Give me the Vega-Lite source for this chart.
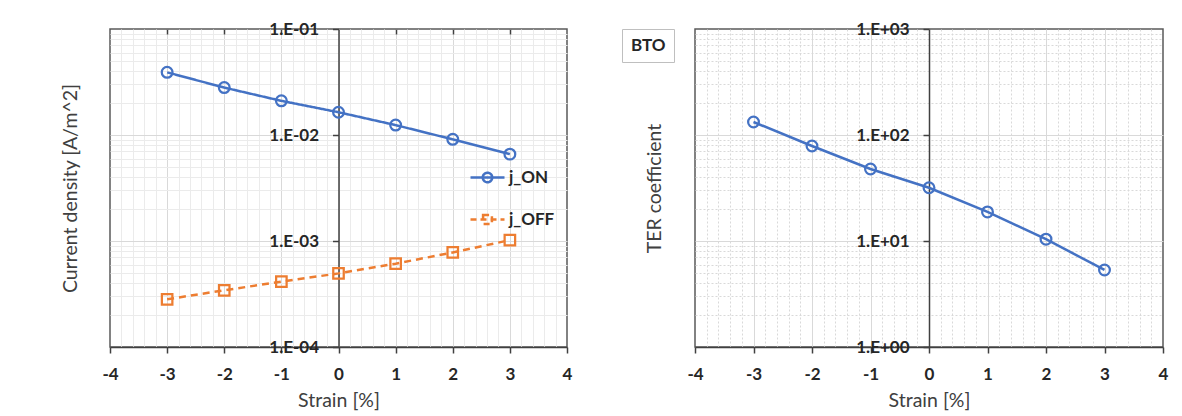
{
  "$schema": "https://vega.github.io/schema/vega-lite/v6.json",
  "background": "white",
  "padding": {"left": 59, "top": 19, "right": 5, "bottom": 5},
  "spacing": 128,
  "bounds": "flush",
  "resolve": {"scale": {"color": "independent"}, "legend": {"color": "independent"}},
  "config": {
    "font": "Lato",
    "view": {"stroke": "#595959", "strokeWidth": 1.5},
    "axis": {
      "labelFont": "Lato",
      "titleFont": "Lato",
      "labelFontSize": 17,
      "labelFontWeight": "bold",
      "labelColor": "#262626",
      "titleFontSize": 19.5,
      "titleFontWeight": "normal",
      "titleColor": "#404040",
      "domainColor": "#404040",
      "tickColor": "#404040",
      "domainWidth": 1.5,
      "tickWidth": 1.5,
      "labelOverlap": false,
      "labelFlush": false
    },
    "legend": {"labelFont": "Lato"}
  },
  "datasets": {
    "current": [
      {"series": "j_ON", "strain": -3, "density": 0.039},
      {"series": "j_ON", "strain": -2, "density": 0.028},
      {"series": "j_ON", "strain": -1, "density": 0.021},
      {"series": "j_ON", "strain": 0, "density": 0.0164},
      {"series": "j_ON", "strain": 1, "density": 0.0124},
      {"series": "j_ON", "strain": 2, "density": 0.0091},
      {"series": "j_ON", "strain": 3, "density": 0.0066},
      {"series": "j_OFF", "strain": -3, "density": 0.000282},
      {"series": "j_OFF", "strain": -2, "density": 0.000343},
      {"series": "j_OFF", "strain": -1, "density": 0.000413},
      {"series": "j_OFF", "strain": 0, "density": 0.000495},
      {"series": "j_OFF", "strain": 1, "density": 0.000611},
      {"series": "j_OFF", "strain": 2, "density": 0.00078},
      {"series": "j_OFF", "strain": 3, "density": 0.00102}
    ],
    "ter": [
      {"material": "BTO", "strain": -3, "ter": 132.7},
      {"material": "BTO", "strain": -2, "ter": 78.7},
      {"material": "BTO", "strain": -1, "ter": 47.8},
      {"material": "BTO", "strain": 0, "ter": 31.8},
      {"material": "BTO", "strain": 1, "ter": 18.8},
      {"material": "BTO", "strain": 2, "ter": 10.4},
      {"material": "BTO", "strain": 3, "ter": 5.33}
    ]
  },
  "hconcat": [
    {
      "width": 457,
      "height": 318,
      "data": {"name": "current"},
      "layer": [
        {
          "mark": {"type": "line", "strokeWidth": 2.5},
          "encoding": {
            "x": {
              "field": "strain", "type": "quantitative",
              "scale": {"domain": [-4, 4], "nice": false, "zero": false},
              "axis": {
                "orient": "bottom",
                "values": [-3.8, -3.6, -3.4, -3.2, -3, -2.8, -2.6, -2.4, -2.2, -2, -1.8, -1.6, -1.4, -1.2, -1, -0.8, -0.6, -0.4, -0.2, 0, 0.2, 0.4, 0.6, 0.8, 1, 1.2, 1.4, 1.6, 1.8, 2, 2.2, 2.4, 2.6, 2.8, 3, 3.2, 3.4, 3.6, 3.8],
                "grid": true,
                "gridColor": {"condition": {"test": "datum.value % 1 === 0", "value": "#d9d9d9"}, "value": "#ebebeb"},
                "gridWidth": 1,
                "labels": false, "ticks": false, "domain": false, "title": null
              }
            },
            "y": {
              "field": "density", "type": "quantitative",
              "scale": {"type": "log", "domain": [0.0001, 0.1], "nice": false},
              "axis": {
                "orient": "left",
                "values": [0.0002, 0.0003, 0.0004, 0.0005, 0.0006, 0.0007, 0.0008, 0.0009, 0.001, 0.002, 0.003, 0.004, 0.005, 0.006, 0.007, 0.008, 0.009, 0.01, 0.02, 0.03, 0.04, 0.05, 0.06, 0.07, 0.08, 0.09],
                "grid": true,
                "gridColor": {"condition": {"test": "abs(log(datum.value)/LN10 - round(log(datum.value)/LN10)) < 1e-6", "value": "#d9d9d9"}, "value": "#ebebeb"},
                "gridWidth": 1,
                "labels": false, "ticks": false, "domain": false,
                "title": "Current density [A/m^2]",
                "titlePadding": 30
              }
            },
            "color": {
              "field": "series", "type": "nominal",
              "scale": {"domain": ["j_ON", "j_OFF"], "range": ["#4472C4", "#ED7D31"]},
              "legend": {
                "orient": "none",
                "legendX": 359,
                "legendY": 130,
                "title": null,
                "padding": 0,
                "symbolType": "circle",
                "symbolSize": 1156,
                "symbolStrokeWidth": 2.5,
                "symbolOpacity": 1,
                "labelFontSize": 17,
                "labelFontWeight": "bold",
                "labelColor": "#262626",
                "labelOffset": 3,
                "rowPadding": 13,
                "encode": {
                  "symbols": {
                    "update": {
                      "shape": {"signal": "datum.value === 'j_ON' ? 'M-1,0H1M-0.28,0A0.28,0.28,0,1,1,0.28,0A0.28,0.28,0,1,1,-0.28,0' : 'M-1,0H1M-0.26,-0.26H0.26V0.26H-0.26Z'"},
                      "strokeDash": {"signal": "datum.value === 'j_OFF' ? [6, 4] : [1, 0]"},
                      "fill": {"value": "transparent"},
                      "opacity": {"value": 1}
                    }
                  }
                }
              }
            },
            "strokeDash": {
              "field": "series", "type": "nominal",
              "scale": {"domain": ["j_ON", "j_OFF"], "range": [[1, 0], [7, 5]]},
              "legend": null
            }
          }
        },
        {
          "transform": [{"filter": "datum.series === 'j_ON'"}],
          "mark": {"type": "point", "shape": "circle", "filled": false, "size": 115, "strokeWidth": 2.25, "opacity": 1},
          "encoding": {
            "x": {
              "field": "strain", "type": "quantitative",
              "axis": {
                "orient": "bottom",
                "values": [-4, -3, -2, -1, 0, 1, 2, 3, 4],
                "grid": false,
                "tickSize": 6,
                "labelPadding": 13,
                "title": "Strain [%]",
                "titlePadding": 9,
                "labelExpr": "datum.value"
              }
            },
            "y": {
              "field": "density", "type": "quantitative",
              "axis": {
                "orient": "left",
                "offset": -228.5,
                "values": [0.0001, 0.001, 0.01, 0.1],
                "grid": false,
                "tickSize": 6,
                "labelPadding": 14,
                "title": null,
                "labelExpr": "'1.E' + (datum.value < 1 ? '-' : '+') + '0' + abs(round(log(datum.value)/LN10))"
              }
            },
            "color": {"field": "series", "type": "nominal", "legend": null}
          }
        },
        {
          "transform": [{"filter": "datum.series === 'j_OFF'"}],
          "mark": {"type": "point", "shape": "square", "filled": false, "size": 110, "strokeWidth": 2.25, "opacity": 1},
          "encoding": {
            "x": {
              "field": "strain", "type": "quantitative",
              "axis": {
                "orient": "top",
                "values": [-3, -2, -1, 1, 2, 3],
                "grid": false,
                "ticks": true,
                "tickSize": -5,
                "labels": false,
                "domain": false,
                "title": null
              }
            },
            "y": {"field": "density", "type": "quantitative", "axis": null},
            "color": {"field": "series", "type": "nominal", "legend": null}
          }
        }
      ],
      "resolve": {"axis": {"x": "independent", "y": "independent"}}
    },
    {
      "width": 468,
      "height": 318,
      "data": {"name": "ter"},
      "layer": [
        {
          "mark": {"type": "line", "strokeWidth": 2.5},
          "encoding": {
            "x": {
              "field": "strain", "type": "quantitative",
              "scale": {"domain": [-4, 4], "nice": false, "zero": false},
              "axis": {
                "orient": "bottom",
                "values": [-3.8, -3.6, -3.4, -3.2, -3, -2.8, -2.6, -2.4, -2.2, -2, -1.8, -1.6, -1.4, -1.2, -1, -0.8, -0.6, -0.4, -0.2, 0, 0.2, 0.4, 0.6, 0.8, 1, 1.2, 1.4, 1.6, 1.8, 2, 2.2, 2.4, 2.6, 2.8, 3, 3.2, 3.4, 3.6, 3.8],
                "grid": true,
                "gridColor": "#d9d9d9",
                "gridDash": {"condition": {"test": "datum.value % 1 === 0", "value": []}, "value": [2, 2]},
                "gridWidth": 1,
                "labels": false, "ticks": false, "domain": false, "title": null
              }
            },
            "y": {
              "field": "ter", "type": "quantitative",
              "scale": {"type": "log", "domain": [1, 1000], "nice": false},
              "axis": {
                "orient": "left",
                "values": [2, 3, 4, 5, 6, 7, 8, 9, 10, 20, 30, 40, 50, 60, 70, 80, 90, 100, 200, 300, 400, 500, 600, 700, 800, 900],
                "grid": true,
                "gridColor": "#d9d9d9",
                "gridDash": {"condition": {"test": "abs(log(datum.value)/LN10 - round(log(datum.value)/LN10)) < 1e-6", "value": []}, "value": [2, 2]},
                "gridWidth": 1,
                "labels": false, "ticks": false, "domain": false,
                "title": "TER coefficient",
                "titlePadding": 31
              }
            },
            "color": {
              "field": "material", "type": "nominal",
              "scale": {"domain": ["BTO"], "range": ["#4472C4"]},
              "legend": {
                "orient": "none",
                "legendX": -73,
                "legendY": 0,
                "title": null,
                "padding": 8,
                "strokeColor": "#bfbfbf",
                "fillColor": "white",
                "symbolOpacity": 0,
                "symbolSize": 0,
                "symbolStrokeWidth": 0,
                "labelOffset": -16,
                "labelFontSize": 17,
                "labelFontWeight": "bold",
                "labelColor": "#262626"
              }
            }
          }
        },
        {
          "mark": {"type": "point", "shape": "circle", "filled": false, "size": 115, "strokeWidth": 2.25, "opacity": 1},
          "encoding": {
            "x": {
              "field": "strain", "type": "quantitative",
              "axis": {
                "orient": "bottom",
                "values": [-4, -3, -2, -1, 0, 1, 2, 3, 4],
                "grid": false,
                "tickSize": 6,
                "labelPadding": 13,
                "title": "Strain [%]",
                "titlePadding": 9,
                "labelExpr": "datum.value"
              }
            },
            "y": {
              "field": "ter", "type": "quantitative",
              "axis": {
                "orient": "left",
                "offset": -234,
                "values": [1, 10, 100, 1000],
                "grid": false,
                "tickSize": 6,
                "labelPadding": 14,
                "title": null,
                "labelExpr": "'1.E' + (datum.value < 1 ? '-' : '+') + '0' + abs(round(log(datum.value)/LN10))"
              }
            },
            "color": {"field": "material", "type": "nominal", "legend": null}
          }
        }
      ],
      "resolve": {"axis": {"x": "independent", "y": "independent"}}
    }
  ]
}
